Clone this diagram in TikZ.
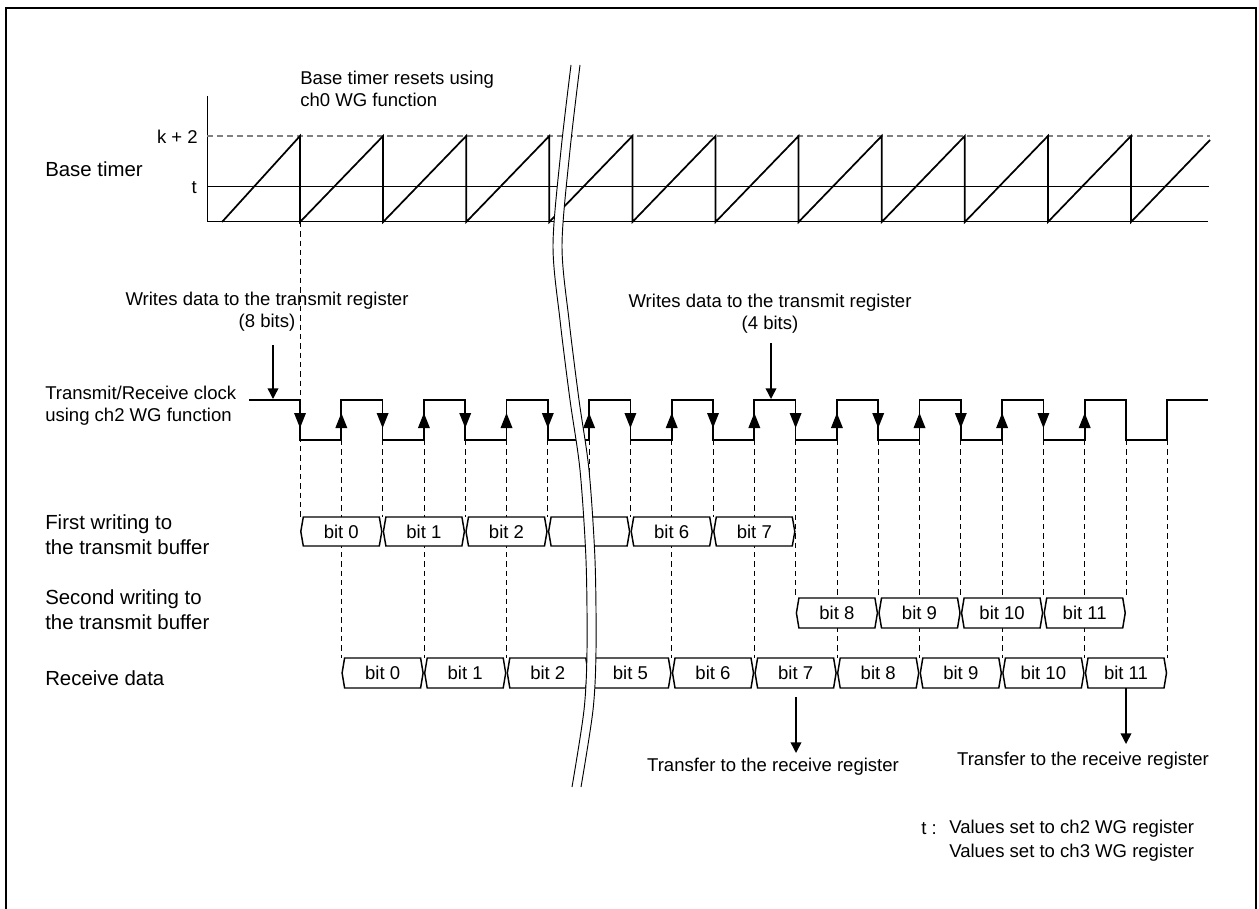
\documentclass[tikz,border=0pt]{standalone}
\usepackage{fontspec}
\setmainfont{Liberation Sans}
\usetikzlibrary{arrows.meta}
\begin{document}
\begin{tikzpicture}[x=0.75pt,y=-0.75pt,
  lbl/.style={font=\fontsize{13.9pt}{16.5pt}\selectfont, inner sep=0pt, align=left},
  rowlbl/.style={font=\fontsize{15.3pt}{18.5pt}\selectfont, inner sep=0pt, align=left},
  ctrlbl/.style={lbl, align=center},
  vdash/.style={line width=0.6pt, dash pattern=on 4pt off 3pt},
  hdash/.style={line width=0.8pt, gray, dash pattern=on 4.5pt off 3pt},
  wave/.style={line width=1.3pt, line join=miter},
  axisline/.style={line width=0.75pt},
  bx/.style={line width=1.1pt, fill=white, line join=miter},
  brk/.style={line width=0.7pt},
  pointer/.style={line width=1.1pt, -{Triangle[length=8pt,width=8pt]}},
  framebox/.style={line width=2.2pt}
]
\useasboundingbox (0,0) rectangle (1259,909);

% frame (open at the bottom)
\draw[framebox] (6,915) -- (6,8) -- (1256,8) -- (1256,915);

% ---------- base timer ----------
\draw[axisline] (207,96) -- (207,222) -- (1208,222);
\draw[axisline] (207,187) -- (1209,187);
\draw[hdash] (207,136) -- (1210,136);
\draw[wave] (222,222)
  \foreach \k in {0,...,10}{ -- ({300+83.1*\k},136) -- ({300+83.1*\k},222)} -- (1210,140);

\node[rowlbl, anchor=west] (tBase) at (45,169) {Base timer};
\node[lbl, anchor=east] (tK2) at (198,137) {k + 2};
\node[lbl, anchor=east] (tT) at (197,188) {t};
\node[lbl, anchor=west] (tReset) at (300,89) {Base timer resets using\\ch0 WG function};

% ---------- dashed timing guides ----------
\draw[vdash] (300,222) -- (300,517);
\foreach \k in {1,...,5}{ \draw[vdash] ({300+82.6*\k},440) -- ({300+82.6*\k},517); }
\foreach \k in {6,...,10}{ \draw[vdash] ({300+82.6*\k},440) -- ({300+82.6*\k},598); }
\foreach \k in {0,...,10}{ \draw[vdash] ({341.3+82.6*\k},440) -- ({341.3+82.6*\k},658); }

% ---------- clock ----------
\node[lbl, anchor=west] (tClk) at (45,406) {Transmit/Receive clock\\using ch2 WG function};
\draw[wave] (249,400)
  \foreach \k in {0,...,10}{ -- ({300+82.6*\k},400) -- ({300+82.6*\k},440)
     -- ({341.3+82.6*\k},440) -- ({341.3+82.6*\k},400)} -- (1208,400);
\foreach \k in {0,...,9}{
  \fill ({300+82.6*\k-6},413) -- ({300+82.6*\k+6},413) -- ({300+82.6*\k},428) -- cycle;
  \fill ({341.3+82.6*\k-6},428) -- ({341.3+82.6*\k+6},428) -- ({341.3+82.6*\k},413) -- cycle;
}

\node[ctrlbl] (tWr1) at (267,312) {Writes data to the transmit register\\(8 bits)};
\coordinate (w1s) at (273,345);
\coordinate (w1e) at (273,399);
\draw[pointer] (w1s) -- (w1e);
\node[ctrlbl] (tWr2) at (770,314) {Writes data to the transmit register\\(4 bits)};
\coordinate (w2s) at (771,343);
\coordinate (w2e) at (771,399);
\draw[pointer] (w2s) -- (w2e);

% ---------- data rows ----------
\node[rowlbl, anchor=west] (tFirst) at (45,535) {First writing to\\the transmit buffer};
\node[rowlbl, anchor=west] (tSecond) at (45,610) {Second writing to\\the transmit buffer};
\node[rowlbl, anchor=west] (tRecv) at (45,678) {Receive data};

\foreach \k/\t in {0/bit 0,1/bit 1,2/bit 2,3/{},4/bit 6,5/bit 7}{
  \pgfmathsetmacro\xa{300+82.6*\k+0.8}
  \pgfmathsetmacro\xb{300+82.6*(\k+1)-0.8}
  \filldraw[bx] (\xa,531.5) -- (\xa+2.5,517) -- (\xb-2.5,517) -- (\xb,531.5)
     -- (\xb-2.5,546) -- (\xa+2.5,546) -- cycle;
  \node[lbl] (fw\k) at ({(\xa+\xb)/2},532) {\t};
}
\foreach \k/\t in {6/bit 8,7/bit 9,8/bit 10,9/bit 11}{
  \pgfmathsetmacro\xa{300+82.6*\k+0.8}
  \pgfmathsetmacro\xb{300+82.6*(\k+1)-0.8}
  \filldraw[bx] (\xa,613) -- (\xa+2.5,598) -- (\xb-2.5,598) -- (\xb,613)
     -- (\xb-2.5,628) -- (\xa+2.5,628) -- cycle;
  \node[lbl] (sw\k) at ({(\xa+\xb)/2},613) {\t};
}
\foreach \k/\t in {0/bit 0,1/bit 1,2/bit 2,3/bit 5,4/bit 6,5/bit 7,6/bit 8,7/bit 9,8/bit 10,9/bit 11}{
  \pgfmathsetmacro\xa{341.3+82.6*\k+0.8}
  \pgfmathsetmacro\xb{341.3+82.6*(\k+1)-0.8}
  \filldraw[bx] (\xa,673) -- (\xa+2.5,658) -- (\xb-2.5,658) -- (\xb,673)
     -- (\xb-2.5,688) -- (\xa+2.5,688) -- cycle;
  \node[lbl] (rd\k) at ({(\xa+\xb)/2},673) {\t};
}

% ---------- transfer arrows ----------
\coordinate (x1s) at (796,697);
\coordinate (x1e) at (796,753);
\draw[pointer] (x1s) -- (x1e);
\node[ctrlbl] (tXfer1) at (773,767) {Transfer to the receive register};
\coordinate (x2s) at (1126,688);
\coordinate (x2e) at (1126,744);
\draw[pointer] (x2s) -- (x2e);
\node[ctrlbl] (tXfer2) at (1083,761) {Transfer to the receive register};

% ---------- notes ----------
\node[lbl, anchor=west] (tNoteT) at (921,829) {t :};
\node[lbl, anchor=west] (tNote1) at (949,829) {Values set to ch2 WG register};
\node[lbl, anchor=west] (tNote2) at (949,853) {Values set to ch3 WG register};

% ---------- break mark ----------
\fill[white] plot[smooth] coordinates {(571,65) (561,150) (553,245) (560,320) (570,400) (580,470) (586,560) (587,650) (584,710) (572,787)}
  -- plot[smooth] coordinates {(581,787) (593,710) (596,650) (595,560) (589,470) (579,400) (569,320) (562,245) (570,150) (580,65)} -- cycle;
\draw[brk] plot[smooth] coordinates {(571,65) (561,150) (553,245) (560,320) (570,400) (580,470) (586,560) (587,650) (584,710) (572,787)};
\draw[brk] plot[smooth] coordinates {(580,65) (570,150) (562,245) (569,320) (579,400) (589,470) (595,560) (596,650) (593,710) (581,787)};
\end{tikzpicture}
\end{document}
